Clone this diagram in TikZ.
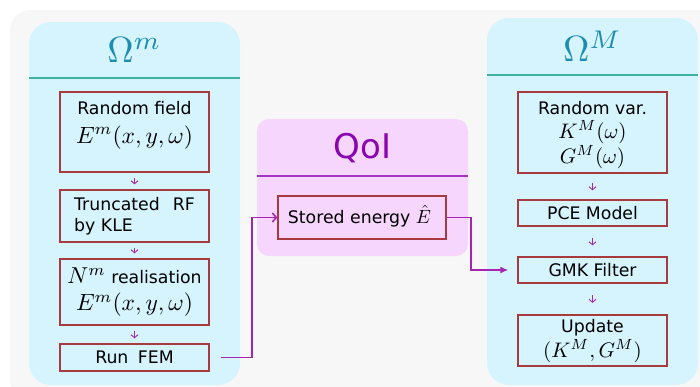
\documentclass[tikz,border=0pt]{standalone}
\usepackage{fontspec}
\setmainfont{DejaVu Sans}
\usetikzlibrary{arrows.meta}

\definecolor{bggray}{HTML}{F7F7F7}
\definecolor{panelcyan}{HTML}{D5F4FD}
\definecolor{panelline}{HTML}{3FB3A0}
\definecolor{paneltitle}{HTML}{1C8DB0}
\definecolor{boxred}{HTML}{A63A3E}
\definecolor{flowpurple}{HTML}{A325B0}
\definecolor{qoifill}{HTML}{F6D6FC}
\definecolor{qoititle}{HTML}{8A05B0}
\definecolor{qoiline}{HTML}{A534C2}

% math set at 10pt and scaled up as a whole (factor = size/10pt)
\newcommand{\bigmath}[2]{\scalebox{#1}{\fontsize{10}{12}\selectfont$#2$}}

\tikzset{
  panel/.style={fill=panelcyan, rounded corners=22pt},
  stepbox/.style={draw=boxred, line width=1.3pt, minimum width=149pt, inner sep=0pt},
  bodytext/.style={font=\fontsize{17.3}{21}\selectfont, inner sep=0pt, align=center},
  mathtext/.style={inner sep=0pt},
  titletext/.style={font=\fontsize{34}{38}\selectfont, inner sep=0pt},
  substep/.style={draw=flowpurple, line width=0.9pt, -{Straight Barb[length=3pt,width=7pt]},
                  shorten >=#1, shorten <=#1},
  substep/.default=5pt,
  flow/.style={draw=flowpurple, line width=1.5pt}
}

\begin{document}
\begin{tikzpicture}[x=1pt,y=-1pt]
\useasboundingbox (0,0) rectangle (700,386);

% backdrop
\fill[bggray, rounded corners=20pt] (10,10) rectangle (720,400);

% ---- left panel: micro scale ----
\fill[panel] (29,22) rectangle (240,385);
\draw[panelline, line width=1.5pt] (29,78) -- (240,78);
\node[mathtext, text=paneltitle] (tm) at (134.5,50) {\bigmath{3.65}{\Omega^m}};

\node[stepbox, minimum height=80pt] (l1) at (134.5,132) {};
\node[bodytext] (l1a) at (134.5,108) {Random field};
\node[mathtext] (l1b) at (134.5,137.5) {\bigmath{2.35}{E^m(x,y,\omega)}};

\node[stepbox, minimum height=52pt] (l2) at (134.5,216) {};
\node[bodytext, anchor=west, align=left] (l2a) at (74,216) {Truncated\hspace{0.75em}RF\\by KLE};

\node[stepbox, minimum height=66pt] (l3) at (134.5,292) {};
\node[bodytext] (l3a) at (134.5,276) {\bigmath{2.3}{N^m} realisation};
\node[mathtext] (l3b) at (134.5,305) {\bigmath{2.35}{E^m(x,y,\omega)}};

\node[stepbox, minimum height=27pt] (l4) at (134.5,357.5) {};
\node[bodytext] (l4a) at (134.5,357.5) {Run\hspace{0.55em}FEM};

\draw[substep] (l1) -- (l2);
\draw[substep] (l2) -- (l3);
\draw[substep] (l3) -- (l4);

% ---- middle panel: quantity of interest ----
\fill[qoifill, rounded corners=12pt] (257,119) rectangle (468,256);
\draw[qoiline, line width=1.5pt] (257,176) -- (468,176);
\node[titletext, text=qoititle] (tq) at (362.5,148) {QoI};

\node[stepbox, minimum width=168pt, minimum height=43pt] (se) at (362,217.5) {};
\node[bodytext] (sea) at (359.5,216) {Stored energy \bigmath{1.9}{\hat{E}}};

% ---- right panel: macro scale ----
\fill[panel] (487,18) rectangle (698,385);
\draw[panelline, line width=1.5pt] (487,75) -- (698,75);
\node[mathtext, text=paneltitle] (tM) at (592.5,46) {\bigmath{3.65}{\Omega^M}};

\node[stepbox, minimum height=81pt] (r1) at (592.5,132.5) {};
\node[bodytext] (r1a) at (592.5,108) {Random var.};
\node[mathtext] (r1b) at (592.5,132) {\bigmath{2.1}{K^M(\omega)}};
\node[mathtext] (r1c) at (592.5,157) {\bigmath{2.1}{G^M(\omega)}};

\node[stepbox, minimum height=26pt] (r2) at (592.5,213) {};
\node[bodytext] (r2a) at (592.5,213) {PCE Model};

\node[stepbox, minimum height=26pt] (r3) at (592.5,270) {};
\node[bodytext] (r3a) at (592.5,270) {GMK Filter};

\node[stepbox, minimum height=51pt] (r4) at (592.5,340.5) {};
\node[bodytext] (r4a) at (592.5,328) {Update};
\node[mathtext] (r4b) at (592.5,351) {\bigmath{2.1}{(K^M,G^M)}};

\draw[substep=9pt] (r1) -- (r2);
\draw[substep=11pt] (r2) -- (r3);
\draw[substep=11.5pt] (r3) -- (r4);

% ---- connectors between panels ----
\coordinate (j1) at (252,357.5);
\coordinate (j2) at (471,217.5);
\draw[flow, -{Straight Barb[length=4pt,width=9pt]}, shorten <=11pt]
  (l4.east) -| (j1) |- (se.west);
\draw[flow, -{Latex[length=8pt,width=7pt]}, shorten >=9pt]
  (se.east) -| (j2) |- (r3.west);

\end{tikzpicture}
\end{document}
